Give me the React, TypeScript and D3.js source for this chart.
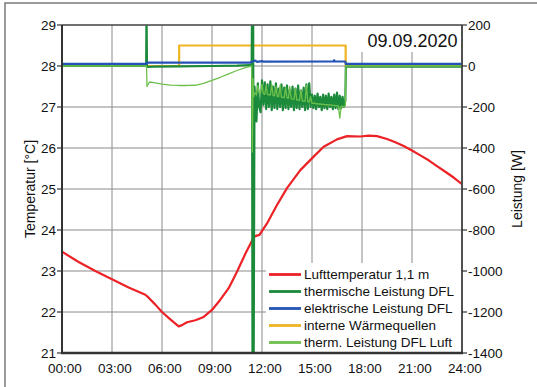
import React from "react";
import * as d3 from "d3";

// ---------- data ----------
const xTicks = ["00:00", "03:00", "06:00", "09:00", "12:00", "15:00", "18:00", "21:00", "24:00"];
const xTickHours = [0, 3, 6, 9, 12, 15, 18, 21, 24];
const leftTicks = [21, 22, 23, 24, 25, 26, 27, 28, 29];
const rightTicks = [-1400, -1200, -1000, -800, -600, -400, -200, 0, 200];

// Lufttemperatur 1,1 m  [hour, °C]
const airTemp: [number, number][] = [
  [0, 23.47], [1, 23.22], [2, 23.0], [3, 22.8], [4, 22.6], [5, 22.42], [5.2, 22.35],
  [5.6, 22.18], [6.0, 22.0], [6.5, 21.82], [7.0, 21.65], [7.2, 21.68], [7.5, 21.75],
  [8.0, 21.8], [8.5, 21.88], [9.0, 22.05], [9.5, 22.3], [10.0, 22.58], [10.5, 22.98],
  [11.0, 23.42], [11.5, 23.82], [11.6, 23.85], [11.85, 23.88], [12.3, 24.16],
  [12.9, 24.61], [13.5, 25.02], [14.3, 25.46], [15.1, 25.79], [15.7, 26.03],
  [16.5, 26.21], [17.1, 26.29], [17.9, 26.28], [18.4, 26.3], [18.9, 26.29],
  [19.5, 26.22], [20.0, 26.14], [20.5, 26.05], [21.0, 25.94], [21.5, 25.82],
  [22.0, 25.7], [22.5, 25.56], [23.0, 25.42], [23.5, 25.28], [24.0, 25.12],
];

// noisy section sampled every 5 min from 11:35 to 17:00
const noiseStartHour = 11 + 35 / 60;
const noiseStepHour = 5 / 60;

// thermische Leistung DFL [W]
const thermBefore: [number, number][] = [
  [0, 0], [5.05, 0], [5.07, 260], [5.1, -5], [5.5, -3], [7, -2], [9, 0], [10.5, 2],
  [11.3, 5], [11.38, 5], [11.4, 260], [11.43, -1450], [11.47, 260], [11.5, -1450], [11.55, -100],
];
const thermNoise = [
  -150, -270, -85, -200, -225,
  -70, -190, -80, -210, -90, -200,
  -75, -215, -100, -205, -85, -210,
  -110, -200, -90, -215, -105, -205,
  -95, -210, -115, -200, -100, -215,
  -110, -205, -95, -210, -120, -200,
  -105, -215, -90, -210, -85, -200,
  -140, -205, -145, -210, -135, -200,
  -150, -215, -140, -205, -145, -210,
  -135, -200, -150, -210, -140, -205,
  -130, -210, -145, -205, -150, -200,
  -170,
];
const thermAfter: [number, number][] = [[17.03, -3], [24, -3]];

// therm. Leistung DFL Luft [W]
const airBefore: [number, number][] = [
  [0, 0], [5.07, 0], [5.1, -100], [5.25, -78], [5.6, -82], [6.0, -88], [6.5, -93],
  [7.0, -95], [7.5, -95], [8.0, -94], [8.5, -85], [9.0, -70], [9.5, -55], [10.0, -38],
  [10.5, -22], [11.0, -8], [11.38, 0], [11.42, -420], [11.46, -60], [11.5, -150],
];
const airNoise = [
  -130, -140, -95, -135, -130,
  -90, -135, -138, -95, -140, -140,
  -142, -90, -145, -146, -100, -148,
  -150, -95, -152, -153, -154, -105,
  -156, -158, -100, -160, -162, -163,
  -110, -165, -166, -167, -115, -170,
  -171, -172, -95, -175, -176, -150,
  -182, -183, -180, -185, -184, -186,
  -185, -187, -186, -188, -188, -189,
  -190, -190, -191, -192, -192, -193,
  -193, -194, -254, -196, -196, -200,
  -195,
];
const airAfter: [number, number][] = [[17.03, 0], [24, 0]];

// elektrische Leistung DFL [W]
const elecPower: [number, number][] = [
  [0, 10], [5.05, 10], [5.08, 16], [11.3, 16], [11.4, 22], [11.6, 26], [11.7, 20],
  [12.0, 24], [12.1, 21], [16.3, 22], [16.33, 28], [16.37, 22], [17.0, 22], [17.03, 10], [24, 10],
];

// interne Wärmequellen [W]
const internalGains: [number, number][] = [
  [0, 0], [7.03, 0], [7.03, 100], [17.02, 100], [17.02, 0], [24, 0],
];

const legendLabels = [
  "Lufttemperatur 1,1 m",
  "thermische Leistung DFL",
  "elektrische Leistung DFL",
  "interne Wärmequellen",
  "therm. Leistung DFL Luft",
];
const colors = ["#ec2227", "#1b8a3a", "#2553b5", "#efb422", "#6dc04c"];
const title = "09.09.2020";

// ---------- layout ----------
const W = 537, H = 387;
const L = 62, R = 462, T = 25, B = 353;
const FONT = "'Liberation Sans', Arial, sans-serif";

export default function App() {
  const x = d3.scaleLinear().domain([0, 24]).range([L, R]);
  const yL = d3.scaleLinear().domain([21, 29]).range([B, T]);
  const yR = d3.scaleLinear().domain([-1400, 200]).range([B, T]);

  const withNoise = (before: [number, number][], noise: number[], after: [number, number][]) =>
    [...before, ...noise.map((v, i) => [noiseStartHour + i * noiseStepHour, v] as [number, number]), ...after];

  const thermSeries = withNoise(thermBefore, thermNoise, thermAfter);
  const airSeries = withNoise(airBefore, airNoise, airAfter);

  const lineL = d3.line<[number, number]>().x(d => x(d[0])).y(d => yL(d[1]));
  const lineR = d3.line<[number, number]>().x(d => x(d[0])).y(d => yR(d[1]));

  const legendX = 266, legendY = 263;
  const rowY = (i: number) => 274.5 + i * 17;

  return (
    <svg width={W} height={H} style={{ position: "absolute", left: 0, top: 0, background: "#fff" }}
      fontFamily={FONT}>
      <defs>
        <clipPath id="plotclip">
          <rect x={L} y={T} width={R - L} height={B - T} />
        </clipPath>
      </defs>
      {/* outer frame */}
      <rect x={5} y={3} width={700} height={600} fill="none" stroke="#7a7a7a" strokeWidth={1.5} />

      {/* grid */}
      {xTickHours.map(h => (
        <line key={"gx" + h} x1={x(h)} x2={x(h)} y1={T} y2={B} stroke="#8a8a8a" strokeWidth={1} />
      ))}
      {leftTicks.map(t => (
        <line key={"gy" + t} x1={L} x2={R} y1={yL(t)} y2={yL(t)} stroke="#8a8a8a" strokeWidth={1} />
      ))}

      {/* title box */}
      <rect x={360} y={T + 1} width={R - 360 - 1} height={26} fill="#fff" />
      <text x={457.5} y={46.5} fontSize={18} textAnchor="end" fill="#111">{title}</text>

      {/* series */}
      <g clipPath="url(#plotclip)" fill="none" strokeLinejoin="round">
        <path d={lineL(airTemp) || ""} stroke={colors[0]} strokeWidth={2.2} />
        <path d={lineR(internalGains) || ""} stroke={colors[3]} strokeWidth={2.2} />
        <path d={lineR(thermSeries) || ""} stroke={colors[1]} strokeWidth={2.2} />
        <path d={lineR(airSeries) || ""} stroke={colors[4]} strokeWidth={1.3} />
        <path d={lineR(elecPower) || ""} stroke={colors[2]} strokeWidth={2.2} />
      </g>

      {/* legend */}
      <rect x={legendX} y={legendY} width={R - legendX - 1} height={B - legendY - 1} fill="#fff" />
      {legendLabels.map((lab, i) => (
        <g key={lab}>
          <line x1={269} x2={301} y1={rowY(i)} y2={rowY(i)} stroke={colors[i]} strokeWidth={2.8} />
          <text x={304} y={rowY(i)} dy="0.36em" fontSize={13.5} fill="#111">{lab}</text>
        </g>
      ))}

      {/* plot border / axes */}
      <line x1={L} x2={R} y1={T} y2={T} stroke="#555" strokeWidth={1.5} />
      <line x1={R} x2={R} y1={T} y2={B} stroke="#444" strokeWidth={1.8} />
      <line x1={L} x2={L} y1={T} y2={B} stroke="#333" strokeWidth={2} />
      <line x1={L - 1} x2={R + 1} y1={B} y2={B} stroke="#333" strokeWidth={2.4} />

      {/* left ticks */}
      {leftTicks.map(t => (
        <g key={"lt" + t}>
          <line x1={L - 5} x2={L} y1={yL(t)} y2={yL(t)} stroke="#333" strokeWidth={1.2} />
          <text x={56} y={yL(t)} dy="0.36em" textAnchor="end" fontSize={13.5} fill="#111">{t}</text>
        </g>
      ))}
      {/* right ticks */}
      {rightTicks.map(t => (
        <g key={"rt" + t}>
          <line x1={R} x2={R + 5} y1={yR(t)} y2={yR(t)} stroke="#333" strokeWidth={1.2} />
          <text x={468} y={yR(t)} dy="0.36em" textAnchor="start" fontSize={13.5} fill="#111">{t}</text>
        </g>
      ))}
      {/* bottom ticks */}
      {xTicks.map((lab, i) => (
        <text key={lab} x={x(xTickHours[i]) + 3} y={372.5} textAnchor="middle" fontSize={13.5} fill="#111">{lab}</text>
      ))}

      {/* axis titles */}
      <text transform={`translate(30,${(T + B) / 2}) rotate(-90)`} textAnchor="middle" dy="0.36em"
        fontSize={14} fill="#111">Temperatur [°C]</text>
      <text transform={`translate(517,${(T + B) / 2}) rotate(-90)`} textAnchor="middle" dy="0.36em"
        fontSize={14} fill="#111">Leistung [W]</text>
    </svg>
  );
}
